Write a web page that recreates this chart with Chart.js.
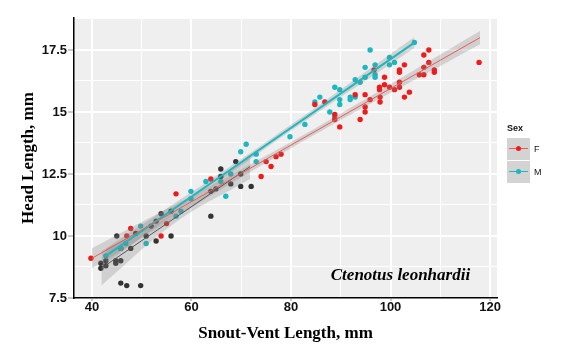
<!DOCTYPE html>
<html lang="en">
<head>
<meta charset="UTF-8">
<title>Ctenotus leonhardii</title>
<script src="https://cdn.jsdelivr.net/npm/chart.js"></script>
<style>
    body { margin: 0; background: #fff; }
    #wrap { position: relative; width: 569px; height: 358px; }
    /* legend, ggplot style */
    .legend { position: absolute; left: 507px; top: 123px; font-family: "Liberation Sans", Arial, sans-serif; font-size: 9px; color: #111; }
    .legend .title { font-weight: bold; margin-bottom: 5px; }
    .legend .row { display: flex; align-items: center; height: 22px; margin-bottom: 1px; }
    .legend .key { position: relative; width: 23px; height: 22px; background: #d3d3d3; margin-right: 4px; }
    .legend .key .ln { position: absolute; left: 2px; right: 2px; top: 10px; height: 1px; }
    .legend .key .pt { position: absolute; left: 9px; top: 8px; width: 5px; height: 5px; border-radius: 50%; }
</style>
</head>
<body>
<div id="wrap">
    <canvas id="chart" width="569" height="358"></canvas>
    <div class="legend">
        <div class="title">Sex</div>
        <div class="row"><div class="key"><div class="ln" style="background:#f05a50"></div><div class="pt" style="background:#f01a1a"></div></div>F</div>
        <div class="row"><div class="key"><div class="ln" style="background:#1ab8c0"></div><div class="pt" style="background:#1ab8c0"></div></div>M</div>
    </div>
</div>

<script>
    // Points: [snout-vent length, head length]
    const femalePts = [
        [107.7,17.5],[106.7,17.3],[117.8,17.0],[107.7,17.0],[102.8,16.9],[106.7,16.8],[101.8,16.7],[101.8,16.6],
        [96.7,16.7],[108.8,16.7],[108.8,16.6],[105.8,16.5],[106.7,16.5],[98.8,16.4],[101.8,16.2],[98.8,16.1],
        [97.8,16.0],[97.8,15.9],[99.8,16.0],[100.8,15.9],[101.8,16.0],[103.8,15.8],[102.8,15.6],[94.9,15.7],
        [92.9,15.7],[97.9,15.6],[95.9,15.5],[86.8,15.4],[84.8,15.3],[97.9,15.4],[94.9,15.2],[94.9,15.0],
        [88.8,14.9],[88.8,14.7],[93.9,14.7],[89.8,14.4],
        [78.0,13.3],[77.0,13.2],[75.0,13.0],[76.0,12.8],[74.0,12.4],[63.9,12.3],[56.9,11.7],[47.8,10.3],
        [47.0,10.0],[53.9,10.0],[39.8,9.1],[55.0,10.5]
    ];
    const malePts = [
        [104.8,17.8],[95.9,17.5],[99.8,17.2],[100.8,17.0],[99.8,16.9],[96.9,16.9],[94.9,16.8],[96.9,16.5],
        [96.9,16.4],[94.9,16.4],[92.9,16.3],[93.9,16.2],[88.8,16.0],[89.8,15.9],[85.8,15.6],[84.8,15.4],
        [89.8,15.5],[91.9,15.6],[91.9,15.5],[92.9,15.6],[89.8,15.3],[87.8,15.0],[88.8,14.8],[82.8,14.5],
        [79.8,14.0],[71.0,13.7],[69.9,13.4],[73.0,13.3],[73.0,13.0],[62.9,12.2],[65.9,12.2],[67.9,12.5],
        [59.9,11.8],[59.9,11.5],[66.9,11.6],[57.9,11.0],[56.9,10.8],[49.8,10.4],[50.9,9.7],[46.8,9.7],
        [45.8,9.5],[42.8,9.2]
    ];
    const otherPts = [
        [65.9,12.7],[68.9,13.0],[65.9,12.4],[67.9,12.1],[69.9,12.0],[72.0,12.0],[69.9,12.5],[63.9,11.8],
        [64.9,11.9],[63.9,10.8],[55.9,11.0],[53.9,10.9],[52.9,10.6],[51.9,10.4],[55.9,10.0],[52.9,9.8],
        [45.0,10.0],[48.8,10.1],[50.9,10.0],[45.8,9.5],[47.8,9.5],[41.8,8.9],[42.8,9.0],[41.8,8.7],
        [42.8,8.8],[44.8,9.0],[45.8,9.0],[44.8,8.9],[45.8,8.1],[47.0,8.0],[49.8,8.0]
    ];

    // fitted lines and their grey bands, read at start / middle / end
    const femaleFitX = [40, 79, 118];
    const femaleFit  = [9.1, 13.55, 18.0];
    const femaleLo   = [8.7, 13.42, 17.73];
    const femaleHi   = [9.5, 13.68, 18.27];

    const maleFitX = [42.8, 74, 104.8];
    const maleFit  = [9.2, 13.53, 17.8];
    const maleLo   = [8.9, 13.41, 17.58];
    const maleHi   = [9.5, 13.65, 18.02];

    const otherFitX = [41.9, 57, 71.8];
    const otherFit  = [8.7, 10.77, 12.8];
    const otherLo   = [8.0, 10.57, 12.3];
    const otherHi   = [9.4, 10.97, 13.3];

    const xGrid = [40, 50, 60, 70, 80, 90, 100, 110, 120];
    const xLabels = [40, 60, 80, 100, 120];
    const yGrid = [7.5, 8.75, 10, 11.25, 12.5, 13.75, 15, 16.25, 17.5, 18.75];
    const yLabels = [7.5, 10, 12.5, 15, 17.5];

    const toXY = arr => arr.map(p => ({x: p[0], y: p[1]}));
    const zip = (xs, ys) => xs.map((x, i) => ({x: x, y: ys[i]}));

    function pointSet(data, color) {
        return { type: 'scatter', data: toXY(data), backgroundColor: color, borderWidth: 0, pointRadius: 2.7, order: 3 };
    }
    function band(xs, lo, hi) {
        return [
            { type: 'line', data: zip(xs, lo), borderWidth: 0, pointRadius: 0, tension: 0.4, fill: false, order: 2 },
            { type: 'line', data: zip(xs, hi), borderWidth: 0, pointRadius: 0, tension: 0.4, fill: '-1',
              backgroundColor: 'rgba(130,130,130,0.28)', order: 2 }
        ];
    }
    function fitLine(xs, ys, color, w) {
        return { type: 'line', data: zip(xs, ys), borderColor: color, borderWidth: w, pointRadius: 0, fill: false, order: 1 };
    }

    const panelBg = {
        id: 'panelBg',
        beforeDraw(chart) {
            const a = chart.chartArea, c = chart.ctx;
            c.save();
            c.fillStyle = '#efefef';
            c.fillRect(a.left, a.top, a.right - a.left, a.bottom - a.top);
            c.restore();
        },
        afterDatasetsDraw(chart) {
            const c = chart.ctx;
            c.save();
            c.font = 'italic bold 17px "Liberation Serif", "Times New Roman", serif';
            c.fillStyle = '#000';
            c.textAlign = 'center';
            c.textBaseline = 'middle';
            c.fillText('Ctenotus leonhardii', chart.scales.x.getPixelForValue(102), chart.scales.y.getPixelForValue(8.42));
            c.restore();
        }
    };

    const isIn = (list, v) => list.some(t => Math.abs(t - v) < 1e-6);

    new Chart(document.getElementById('chart'), {
        data: {
            datasets: [
                pointSet(femalePts, '#f01a1a'),
                pointSet(malePts, '#1ab8c0'),
                pointSet(otherPts, '#333333'),
                ...band(femaleFitX, femaleLo, femaleHi),
                ...band(maleFitX, maleLo, maleHi),
                ...band(otherFitX, otherLo, otherHi),
                fitLine(femaleFitX, femaleFit, '#f05a50', 1),
                fitLine(maleFitX, maleFit, '#1ab8c0', 2),
                fitLine(otherFitX, otherFit, '#555555', 1)
            ]
        },
        options: {
            responsive: false,
            animation: false,
            layout: { padding: { top: 18, right: 72, left: 0, bottom: 0 } },
            plugins: { legend: { display: false }, tooltip: { enabled: false } },
            scales: {
                x: {
                    type: 'linear', min: 36.4, max: 121.4,
                    afterBuildTicks: ax => { ax.ticks = xGrid.map(v => ({value: v})); },
                    afterFit: ax => { ax.height = 60; },
                    ticks: {
                        padding: -1, color: '#111', maxRotation: 0, autoSkip: false,
                        font: { family: '"Liberation Sans", Arial, sans-serif', size: 13, weight: 'bold' },
                        callback: v => isIn(xLabels, v) ? String(v) : ''
                    },
                    grid: {
                        color: '#ffffff',
                        lineWidth: c => isIn(xLabels, c.tick.value) ? 2 : 1,
                        tickLength: 3,
                        tickColor: c => isIn(xLabels, c.tick.value) ? '#999' : 'rgba(0,0,0,0)',
                        tickWidth: 1
                    },
                    border: { display: true, color: '#000', width: 1.5 },
                    title: {
                        display: true, text: 'Snout-Vent Length, mm', color: '#000',
                        font: { family: '"Liberation Serif", "Times New Roman", serif', size: 17, weight: 'bold' },
                        padding: { top: 0, bottom: 14 }
                    }
                },
                y: {
                    type: 'linear', min: 7.5, max: 18.79,
                    afterBuildTicks: ax => { ax.ticks = yGrid.map(v => ({value: v})); },
                    afterFit: ax => { ax.width = 74; },
                    ticks: {
                        padding: 1, color: '#111', autoSkip: false,
                        font: { family: '"Liberation Sans", Arial, sans-serif', size: 13, weight: 'bold' },
                        callback: v => isIn(yLabels, v) ? String(v) : ''
                    },
                    grid: {
                        color: '#ffffff',
                        lineWidth: c => isIn(yLabels, c.tick.value) ? 2 : 1,
                        tickLength: 6,
                        tickColor: c => isIn(yLabels, c.tick.value) ? '#999' : 'rgba(0,0,0,0)',
                        tickWidth: 1
                    },
                    border: { display: true, color: '#000', width: 1.5 },
                    title: {
                        display: true, text: 'Head Length, mm', color: '#000',
                        font: { family: '"Liberation Serif", "Times New Roman", serif', size: 17, weight: 'bold' },
                        padding: { top: 18, bottom: 0 }
                    }
                }
            }
        },
        plugins: [panelBg]
    });
</script>
</body>
</html>
